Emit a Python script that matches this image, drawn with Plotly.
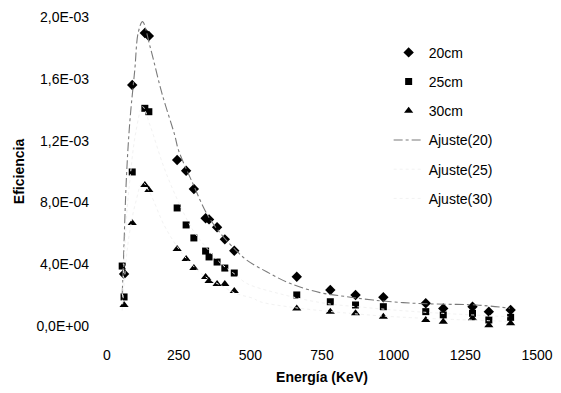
import plotly.graph_objects as go

# --- data ---
energy_20 = [59.5, 88, 132, 146, 244.7, 276, 303, 344, 356, 384, 411, 444,
             662, 779, 867, 964, 1112, 1173, 1275, 1332, 1408]
eff_20 = [3.37e-4, 1.56e-3, 1.896e-3, 1.877e-3, 1.074e-3, 1.005e-3, 0.887e-3,
          0.697e-3, 0.690e-3, 0.639e-3, 0.561e-3, 0.487e-3, 0.319e-3, 0.233e-3,
          0.201e-3, 0.186e-3, 0.147e-3, 0.114e-3, 0.125e-3, 0.093e-3, 0.104e-3]

energy_25 = [53, 59.5, 88, 132, 146, 244.7, 276, 303, 344, 356, 384, 411, 444,
             662, 779, 867, 964, 1112, 1173, 1275, 1332, 1408]
eff_25 = [3.88e-4, 1.88e-4, 0.997e-3, 1.409e-3, 1.387e-3, 0.764e-3, 0.654e-3,
          0.570e-3, 0.485e-3, 0.447e-3, 0.414e-3, 0.375e-3, 0.343e-3, 0.201e-3,
          0.157e-3, 0.136e-3, 0.125e-3, 0.093e-3, 0.071e-3, 0.082e-3, 0.039e-3,
          0.056e-3]

energy_30 = [59.5, 88, 132, 146, 244.7, 276, 303, 344, 356, 384, 411, 444,
             662, 779, 867, 964, 1112, 1173, 1275, 1332, 1408]
eff_30 = [1.36e-4, 0.667e-3, 0.913e-3, 0.880e-3, 0.498e-3, 0.434e-3, 0.375e-3,
          0.317e-3, 0.291e-3, 0.272e-3, 0.272e-3, 0.227e-3, 0.114e-3, 0.093e-3,
          0.082e-3, 0.060e-3, 0.039e-3, 0.028e-3, 0.050e-3, 0.005e-3, 0.017e-3]

fit20_e = [53, 57, 68, 80, 97, 109, 124, 150, 191, 237, 249, 300, 350, 400, 450,
           487, 557, 638, 743, 836, 928, 1033, 1150, 1289, 1406]
fit20_v = [0.20e-3, 0.40e-3, 0.97e-3, 1.33e-3, 1.66e-3, 1.90e-3, 1.97e-3,
           1.81e-3, 1.51e-3, 1.23e-3, 1.14e-3, 0.92e-3, 0.72e-3, 0.59e-3,
           0.49e-3, 0.427e-3, 0.351e-3, 0.276e-3, 0.216e-3, 0.190e-3, 0.168e-3,
           0.151e-3, 0.142e-3, 0.136e-3, 0.115e-3]

fit25_e = [53, 68, 80, 100, 124, 150, 200, 250, 300, 350, 400, 450, 487, 600,
           750, 900, 1100, 1400]
fit25_v = [0.15e-3, 0.70e-3, 0.95e-3, 1.25e-3, 1.42e-3, 1.30e-3, 1.02e-3,
           0.80e-3, 0.62e-3, 0.50e-3, 0.40e-3, 0.33e-3, 0.276e-3, 0.21e-3,
           0.15e-3, 0.12e-3, 0.09e-3, 0.06e-3]

fit30_e = [53, 68, 80, 100, 124, 150, 200, 250, 300, 350, 400, 450, 510, 534,
           650, 800, 1000, 1400]
fit30_v = [0.10e-3, 0.45e-3, 0.62e-3, 0.80e-3, 0.93e-3, 0.86e-3, 0.65e-3,
           0.50e-3, 0.39e-3, 0.31e-3, 0.26e-3, 0.21e-3, 0.179e-3, 0.157e-3,
           0.12e-3, 0.09e-3, 0.06e-3, 0.03e-3]

x_ticks = [0, 250, 500, 750, 1000, 1250, 1500]
x_tick_labels = ["0", "250", "500", "750", "1000", "1250", "1500"]
y_ticks = [0, 0.4e-3, 0.8e-3, 1.2e-3, 1.6e-3, 2.0e-3]
y_tick_labels = ["0,0E+00", "4,0E-04", "8,0E-04", "1,2E-03", "1,6E-03", "2,0E-03"]

FONT = "Liberation Sans, Arial, sans-serif"

fig = go.Figure()

fig.add_trace(go.Scatter(x=energy_20, y=eff_20, mode="markers", name="20cm",
                         legendgroup="a",
                         marker=dict(symbol="diamond", size=8, color="black")))
fig.add_trace(go.Scatter(x=energy_25, y=eff_25, mode="markers", name="25cm",
                         legendgroup="b",
                         marker=dict(symbol="square", size=7, color="black")))
fig.add_trace(go.Scatter(x=energy_30, y=eff_30, mode="markers", name="30cm",
                         legendgroup="c",
                         marker=dict(symbol="triangle-up", size=8, color="black")))
fig.add_trace(go.Scatter(x=fit20_e, y=fit20_v, mode="lines", name="Ajuste(20)",
                         legendgroup="d", line_shape="spline",
                         line=dict(color="#7a7a7a", width=1.1, dash="dashdot")))
fig.add_trace(go.Scatter(x=fit25_e, y=fit25_v, mode="lines", name="Ajuste(25)",
                         legendgroup="e", line_shape="spline",
                         line=dict(color="#f2f2f2", width=1, dash="dot")))
fig.add_trace(go.Scatter(x=fit30_e, y=fit30_v, mode="lines", name="Ajuste(30)",
                         legendgroup="f", line_shape="spline",
                         line=dict(color="#f2f2f2", width=1, dash="dot")))

for tr in fig.data:
    tr.cliponaxis = False

fig.update_layout(
    width=561, height=393,
    margin=dict(l=107, r=24, t=17, b=67),
    paper_bgcolor="white", plot_bgcolor="white",
    font=dict(family=FONT, size=14, color="black"),
    showlegend=True,
    legend=dict(x=0.655, y=0.936, xanchor="left", yanchor="top",
                bgcolor="rgba(0,0,0,0)", font=dict(size=14),
                tracegroupgap=8, itemwidth=30),
    xaxis=dict(range=[0, 1500], tickvals=x_ticks, ticktext=x_tick_labels,
               showgrid=False, zeroline=False, showline=False, automargin=False,
               ticks="", ticklabelstandoff=19,
               title=dict(text="<b>Energía (KeV)</b>", font=dict(size=14),
                          standoff=10)),
    yaxis=dict(range=[0, 2.0e-3], tickvals=y_ticks, ticktext=y_tick_labels,
               showgrid=False, zeroline=False, showline=False, automargin=False,
               ticks="", ticklabelstandoff=17,
               title=dict(text="<b>Eficiencia</b>", font=dict(size=14),
                          standoff=8)),
)

fig.write_html("out.html", config={"displayModeBar": False})

# remove the browser's default page margin so the figure sits at (0, 0)
with open("out.html", "r", encoding="utf-8") as f:
    html = f.read()
html = html.replace("<body>", '<body style="margin:0;padding:0;overflow:hidden">', 1)
with open("out.html", "w", encoding="utf-8") as f:
    f.write(html)
